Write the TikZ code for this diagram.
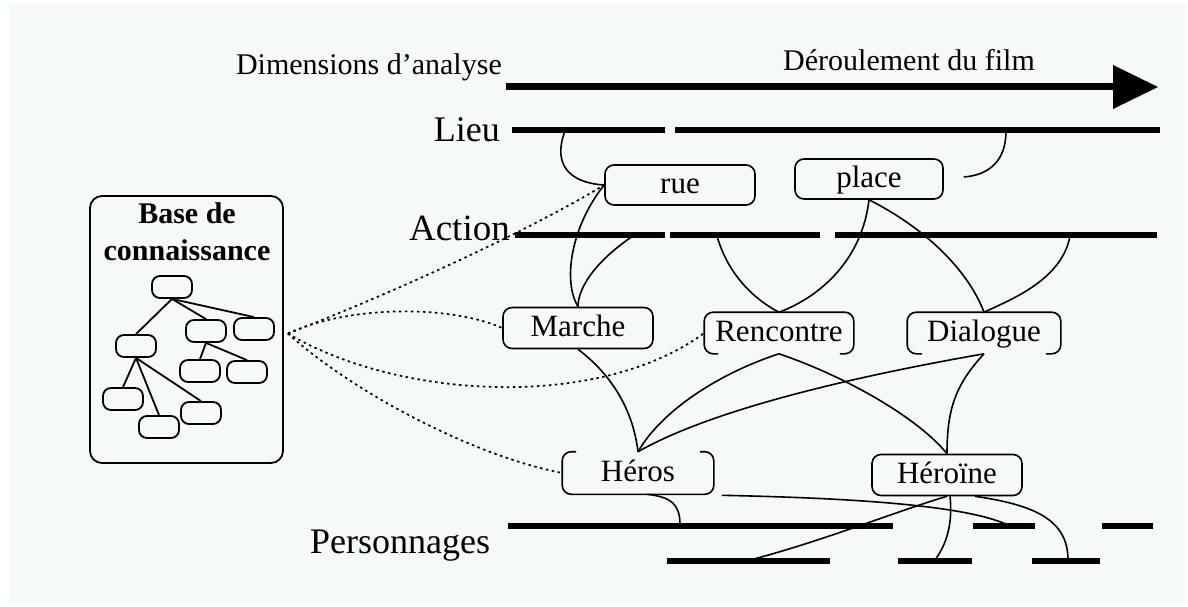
\documentclass[tikz,border=0pt]{standalone}
\usepackage{fontspec}
\setmainfont{Liberation Serif}
\usetikzlibrary{calc}
\definecolor{bgcol}{RGB}{245,249,247}
\begin{document}
\begin{tikzpicture}[x=1pt,y=-1pt,
  nodebox/.style={draw, line width=1.6pt, rounded corners=9pt, minimum width=150pt, minimum height=40pt, inner sep=0pt, text height=19pt, text depth=3pt, font=\fontsize{31}{34}\selectfont},
  openbox/.style={nodebox, draw=none},
  leaf/.style={draw, line width=1.8pt, rounded corners=8pt, minimum width=40pt, minimum height=22pt, inner sep=0pt},
  treeedge/.style={line width=1.8pt},
  track/.style={line width=6pt},
  link/.style={line width=1.6pt},
  kblink/.style={line width=1.7pt, dash pattern=on 2.5pt off 3.5pt},
  dimlabel/.style={inner sep=0pt, font=\fontsize{36}{40}\selectfont},
  toplabel/.style={inner sep=0pt, font=\fontsize{30}{34}\selectfont}]
\useasboundingbox (0,0) rectangle (1188,607);
\fill[bgcol] (9,3) rectangle (1186,605);

% time arrow
\coordinate (arrS) at (506,87);
\coordinate (arrB) at (1116,87);
\coordinate (arrE) at (1158,87);
\draw[line width=7pt] (arrS) -- (arrB);
\fill ($(arrB)+(-3,-22)$) -- (arrE) -- ($(arrB)+(-3,22)$) -- cycle;

% labels
\node[toplabel, anchor=base east] (dim) at (502,75) {Dimensions d'analyse};
\node[toplabel, anchor=base west] (der) at (783,71) {Déroulement du film};
\node[dimlabel, anchor=base east] (lieu) at (500,142) {Lieu};
\node[dimlabel, anchor=base east, font=\fontsize{37}{40}\selectfont] (action) at (510,240) {Action};
\node[dimlabel, anchor=base west] (perso) at (310,553) {Personnages};

% tracks
\draw[track] (512,130) -- (665,130);
\draw[track] (675,130) -- (1160,130);
\draw[track] (515,235) -- (665,235);
\draw[track] (670,235) -- (820,235);
\draw[track] (835,235) -- (1157,235);
\draw[track] (508,526) -- (893,526);
\draw[track] (973,526) -- (1035,526);
\draw[track] (1102,526) -- (1153,526);
\draw[track] (667,561) -- (830,561);
\draw[track] (898,561) -- (972,561);
\draw[track] (1032,561) -- (1100,561);

% attachment points on tracks
\coordinate (l1) at (565,131);
\coordinate (l2) at (1006,131);
\coordinate (a1) at (633,236);
\coordinate (a2) at (717,236);
\coordinate (a3) at (1070,236);
\coordinate (p1) at (680,525);
\coordinate (p2) at (1008,525);
\coordinate (q1) at (750,560);
\coordinate (q2) at (935,560);
\coordinate (q3) at (1068,560);

% nodes
\node[nodebox] (rue) at (680,185) {rue};
\node[nodebox, minimum width=148pt] (place) at (869,179) {place};
\node[nodebox, minimum height=41pt] (marche) at (578,328) {Marche};
\node[openbox, minimum width=148pt] (ren) at (779,333) {Rencontre};
\node[openbox, minimum width=152pt] (dia) at (984,333) {Dialogue};
\node[openbox, minimum height=41pt] (heros) at (638,473) {Héros};
\node[nodebox, minimum height=41pt] (heroine) at (947,475) {Héroïne};

% partial borders
\draw[link, rounded corners=9pt] ($(ren.south west)+(14,0)$) -- (ren.south west) -- (ren.north west) -- (ren.north east) -- (ren.south east) -- ($(ren.south east)+(-14,0)$);
\draw[link, rounded corners=9pt] ($(dia.south west)+(15,0)$) -- (dia.south west) -- (dia.north west) -- (dia.north east) -- (dia.south east) -- ($(dia.south east)+(-15,0)$);
\draw[link, rounded corners=9pt] ($(heros.north west)+(14,0)$) -- (heros.north west) -- (heros.south west) -- (heros.south east) -- (heros.north east) -- ($(heros.north east)+(-14,0)$);

% knowledge base
\node[draw, line width=1.8pt, rounded corners=12pt, minimum width=193pt, minimum height=267pt, inner sep=0pt] (kb) at (186.5,329.5) {};
\node[inner sep=0pt, anchor=base, font=\bfseries\fontsize{30}{34}\selectfont] (kbt1) at (187,223) {Base de};
\node[inner sep=0pt, anchor=base, font=\bfseries\fontsize{30}{34}\selectfont] (kbt2) at (187,260) {connaissance};
\node[leaf] (root) at (172,287) {};
\node[leaf] (n2) at (206,331) {};
\node[leaf] (n3) at (254,329) {};
\node[leaf] (n4) at (136,346) {};
\node[leaf] (n5) at (200,371) {};
\node[leaf] (n6) at (247,372) {};
\node[leaf] (n7) at (123,399) {};
\node[leaf] (n8) at (159,427) {};
\node[leaf] (n9) at (201,413) {};
\draw[treeedge] (root.south) -- (n4.north);
\draw[treeedge] (root.south) -- (n2.north);
\draw[treeedge] (root.south) -- (n3.north);
\draw[treeedge] (n2.south) -- (n5.north);
\draw[treeedge] (n2.south) -- (n6.north);
\draw[treeedge] (n4.south) -- (n7.north);
\draw[treeedge] (n4.south) -- (n8.north);
\draw[treeedge] (n4.south) -- (n9.north);

% dotted links from the knowledge base
\coordinate (kbo) at ($(kb.east)+(4,4)$);
\draw[kblink] (kbo) .. controls (400,290) and (530,230) .. (rue.west);
\draw[kblink] (kbo) .. controls (350,305) and (450,305) .. (marche.west);
\draw[kblink] (kbo) .. controls (400,400) and (600,410) .. (ren.west);
\draw[kblink] (kbo) .. controls (350,390) and (470,455) .. (heros.west);

% solid links
\draw[link] (l1) .. controls (552,165) and (570,183) .. (rue.west);
\draw[link] ($(place.east)+(20,-2)$) .. controls (990,175) and (1006,160) .. (l2);
\draw[link] (rue.west) .. controls (572,225) and (562,280) .. (marche.north);
\draw[link] (a1) .. controls (600,258) and (578,285) .. (marche.north);
\draw[link] (a2) .. controls (728,275) and (755,300) .. (ren.north);
\draw[link] (place.south) .. controls (862,260) and (820,297) .. (ren.north);
\draw[link] (place.south) .. controls (925,228) and (968,270) .. (dia.north);
\draw[link] (a3) .. controls (1062,280) and (1010,300) .. (dia.north);
\draw[link] (marche.south) .. controls (612,375) and (633,410) .. (heros.north);
\draw[link] (ren.south) .. controls (720,373) and (662,410) .. (heros.north);
\draw[link] (dia.south) .. controls (880,372) and (720,405) .. (heros.north);
\draw[link] (ren.south) .. controls (850,378) and (920,420) .. (heroine.north);
\draw[link] (dia.south) .. controls (955,385) and (947,410) .. (heroine.north);
\draw[link] ($(heros.south)+(9,0)$) .. controls (672,497) and (680,505) .. (p1);
\draw[link] ($(heros.south east)+(8,1)$) .. controls (850,498) and (965,505) .. (p2);
\draw[link] (heroine.south) .. controls (900,510) and (820,542) .. (q1);
\draw[link] ($(heroine.south)+(3,0)$) .. controls (953,525) and (946,545) .. (q2);
\draw[link] ($(heroine.south)+(28,0)$) .. controls (1035,505) and (1068,520) .. (q3);
\end{tikzpicture}
\end{document}
